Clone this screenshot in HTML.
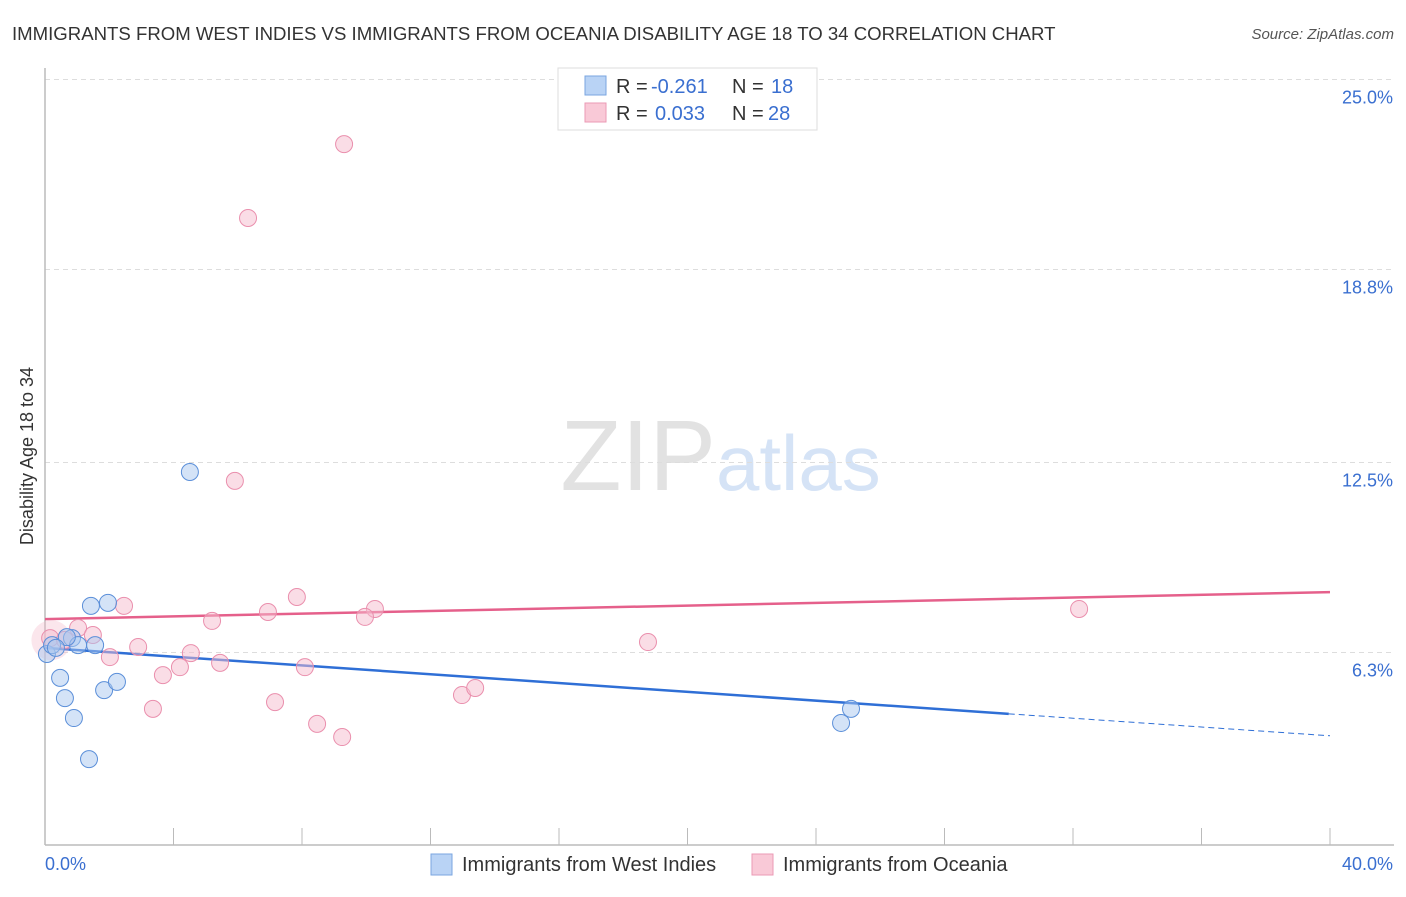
<!DOCTYPE html>
<html><head><meta charset="utf-8"><style>
body{margin:0;background:#fff;font-family:"Liberation Sans",sans-serif;}
svg text{font-family:"Liberation Sans",sans-serif;}
</style></head><body>
<svg id="chart" width="1406" height="892" xmlns="http://www.w3.org/2000/svg">
<text x="12" y="40" font-size="18.6" fill="#333">IMMIGRANTS FROM WEST INDIES VS IMMIGRANTS FROM OCEANIA DISABILITY AGE 18 TO 34 CORRELATION CHART</text>
<text x="1394" y="39" font-size="15" fill="#555" text-anchor="end" font-style="italic">Source: ZipAtlas.com</text>
<text x="716" y="490" font-size="100" fill="#e2e2e2" text-anchor="end" font-family="Liberation Serif">ZIP</text>
<text x="716" y="490" font-size="78" fill="#d5e3f6">atlas</text>
<text transform="translate(33,456) rotate(-90)" font-size="18" fill="#333" text-anchor="middle">Disability Age 18 to 34</text>
<g id="grid"></g><g id="axes"></g><g id="lines"></g><g id="pts"></g>
<g>
<rect x="558" y="68" width="259" height="62" fill="#fff" stroke="#ddd"/>
<rect x="585" y="76" width="21" height="19" fill="#b9d3f5" stroke="#7aa6e0"/>
<rect x="585" y="103" width="21" height="19" fill="#f9c9d7" stroke="#eb9ab4"/>
<text x="616" y="93" font-size="20" fill="#333">R = <tspan fill="#3a6fd0" x="651">-0.261</tspan><tspan x="732">N = </tspan><tspan fill="#3a6fd0" x="771">18</tspan></text>
<text x="616" y="120" font-size="20" fill="#333">R = <tspan fill="#3a6fd0" x="655">0.033</tspan><tspan x="732">N = </tspan><tspan fill="#3a6fd0" x="768">28</tspan></text>
</g>
<g>
<rect x="431" y="854" width="21" height="21" fill="#b9d3f5" stroke="#7aa6e0"/>
<text x="462" y="871" font-size="20" fill="#333">Immigrants from West Indies</text>
<rect x="752" y="854" width="21" height="21" fill="#f9c9d7" stroke="#eb9ab4"/>
<text x="783" y="871" font-size="20" fill="#333">Immigrants from Oceania</text>
</g>
</svg>
<script>
const yTicks=[6.3,12.5,18.8,25.0];
const xTickLabels=["0.0%","40.0%"];
const blueX=[0.06,0.22,0.47,0.62,0.90,1.37,1.43,1.96,1.84,2.24,0.84,1.03,1.56,0.68,4.51,24.78,25.09,0.34];
const blueY=[6.25,6.54,5.47,4.81,4.16,2.82,7.82,7.92,5.07,5.34,6.77,6.54,6.54,6.80,12.19,4.00,4.46,6.45];
const pinkX=[0.16,9.31,6.32,5.91,7.84,2.46,6.94,10.27,9.96,5.20,1.03,1.49,2.90,4.54,2.02,5.45,4.20,8.09,3.67,7.16,3.36,8.47,9.25,12.98,13.39,18.77,32.19,0.62];
const pinkY=[6.77,22.89,20.48,11.90,8.11,7.82,7.62,7.72,7.46,7.33,7.10,6.87,6.48,6.28,6.15,5.96,5.82,5.82,5.56,4.68,4.46,3.97,3.54,4.91,5.14,6.64,7.72,6.71];
const blueTrend=[6.45,3.58];  // y at x=0 and x=40
const pinkTrend=[7.39,8.27];
const NS="http://www.w3.org/2000/svg";
const X=v=>45+v/40*1285, Y=v=>845.5-v/6.25*191.5;
function mk(tag,attrs,parent){const e=document.createElementNS(NS,tag);for(const k in attrs)e.setAttribute(k,attrs[k]);document.getElementById(parent).appendChild(e);return e;}
yTicks.forEach(t=>{
 const l=mk('line',{x1:45,x2:1394,y1:Y(t),y2:Y(t),stroke:'#ddd','stroke-dasharray':'5,4'},'grid');
 
 
 const tx=mk('text',{x:1393,y:Y(t)+24,'font-size':18,fill:'#3a6fd0','text-anchor':'end'},'grid');
 tx.textContent=t.toFixed(1)+'%';
 
 
});
const ax=mk('line',{x1:45,x2:45,y1:68,y2:845,stroke:'#bbb','stroke-width':1.5},'axes');


const bx=mk('line',{x1:45,x2:1394,y1:845,y2:845,stroke:'#bbb','stroke-width':1.5},'axes');


for(let i=0;i<=10;i++){const t=mk('line',{x1:X(i*4),x2:X(i*4),y1:828,y2:845,stroke:'#bbb'},'axes');
 
 }
xTickLabels.forEach((s,i)=>{const t=mk('text',{x:i?1393:45,y:870,'font-size':18,fill:'#3a6fd0','text-anchor':i?'end':'start'},'axes');t.textContent=s;
 
 });
const big=mk('circle',{cx:X(0.2),cy:Y(6.7),r:20,fill:'#f4b6c8','fill-opacity':0.35},'pts');


pinkX.forEach((v,i)=>{const c=mk('circle',{cx:X(v),cy:Y(pinkY[i]),r:8.5,fill:'#f6bccd','fill-opacity':0.5,stroke:'#ea8fad','stroke-width':1},'pts');
 
 });
blueX.forEach((v,i)=>{const c=mk('circle',{cx:X(v),cy:Y(blueY[i]),r:8.5,fill:'#a9c8f0','fill-opacity':0.5,stroke:'#5b8fd9','stroke-width':1},'pts');
 
 });
const by=x=>blueTrend[0]+(blueTrend[1]-blueTrend[0])*x/40;
const b1=mk('line',{x1:X(0),y1:Y(by(0)),x2:X(30),y2:Y(by(30)),stroke:'#2f6fd6','stroke-width':2.5},'lines');


const b2=mk('line',{x1:X(30),y1:Y(by(30)),x2:X(40),y2:Y(by(40)),stroke:'#2f6fd6','stroke-width':1,'stroke-dasharray':'6,4'},'lines');


const p1=mk('line',{x1:X(0),y1:Y(pinkTrend[0]),x2:X(40),y2:Y(pinkTrend[1]),stroke:'#e5608b','stroke-width':2.5},'lines');


</script>
</body></html>
